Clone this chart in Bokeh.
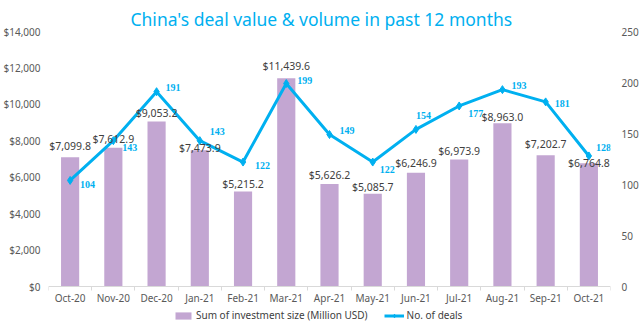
from bokeh.plotting import figure
from bokeh.models import (Range1d, LinearAxis, FixedTicker, NumeralTickFormatter,
                          ColumnDataSource, Legend, LegendItem, LabelSet)
from bokeh.core.properties import value
from bokeh.embed import file_html
from bokeh.resources import INLINE

months = ["Oct-20", "Nov-20", "Dec-20", "Jan-21", "Feb-21", "Mar-21", "Apr-21",
          "May-21", "Jun-21", "Jul-21", "Aug-21", "Sep-21", "Oct-21"]
investment = [7099.8, 7612.9, 9053.2, 7473.9, 5215.2, 11439.6, 5626.2,
              5085.7, 6246.9, 6973.9, 8963.0, 7202.7, 6764.8]
deals = [104, 143, 191, 143, 122, 199, 149, 122, 154, 177, 193, 181, 128]
left_max, right_max = 14000, 250
title_text = "China's deal value & volume in past 12 months"

# label placement styles (pixels)
bar_label_dy = [-11, -9, -9, -2, -8, -12, -9, -7, -10, -8, -6, -11, 0]   # screen, down positive
deal_label_dx = [10, 9, 9, 10, 12, 11, 10, 7, 0, 9, 9, 9, 7]
deal_label_dy = [-4, -7, 4, 9, -3, 3, 4, -7, 14, -8, 4, -2, 8]          # up positive

BAR = "#C3A6D2"
BLUE = "#00B0F0"
FONT = "Noto Sans"
PLOT_PX = 255      # pixel height of the 0..max value span
GAP_PX = 37        # room below the zero line for labels and legend

xs = list(range(len(months)))
src = ColumnDataSource(dict(
    x=xs, inv=investment, deals=deals, month=months,
    inv_txt=["${:,.1f}".format(v) for v in investment],
    deal_txt=[str(d) for d in deals],
    bdy=bar_label_dy, ddx=deal_label_dx, ddy=deal_label_dy,
))

p = figure(frame_width=562, frame_height=PLOT_PX + GAP_PX, output_backend="svg",
           toolbar_location=None,
           x_range=Range1d(-0.5, len(months) - 0.5),
           y_range=Range1d(-GAP_PX * left_max / PLOT_PX, left_max),
           min_border_left=45, min_border_right=33, min_border_top=31,
           min_border_bottom=0, outline_line_color=None,
           title=title_text)
p.title.align = "left"
p.title.offset = 82
p.title.standoff = 0
p.title.vertical_align = "middle"
p.title.text_color = BLUE
p.title.text_font = FONT
p.title.text_font_size = "17.5px"
p.title.text_font_style = "normal"
p.extra_y_ranges = {"right": Range1d(-GAP_PX * right_max / PLOT_PX, right_max)}

p.xgrid.visible = False
p.ygrid.visible = False

bars = p.vbar(x="x", top="inv", bottom=0, width=0.42, source=src, fill_color=BAR,
              line_color=None)
line = p.line(x="x", y="deals", source=src, y_range_name="right",
              line_color=BLUE, line_width=3)
pts = p.scatter(x="x", y="deals", source=src, y_range_name="right",
                marker="diamond", size=8, fill_color=BLUE, line_color=BLUE)

p.text(x="x", y="inv", text="inv_txt", source=src, y_offset="bdy",
       text_align="center", text_baseline="middle",
       text_font=value(FONT), text_font_size="10.5px", text_color="#404040")
dl = LabelSet(x="x", y="deals", text="deal_txt", source=src, y_range_name="right",
              x_offset="ddx", y_offset="ddy", text_align="left",
              text_baseline="middle", text_font=FONT, text_font_size="10px",
              text_font_style="bold", text_color=BLUE)
p.add_layout(dl)

# category labels under the zero line
p.text(x="x", y=0, text="month", source=src, y_offset=11,
       text_align="center", text_baseline="middle",
       text_font=value(FONT), text_font_size="10px", text_color="#595959")

# x axis line at zero with separators between categories
xa = p.xaxis[0]
xa.fixed_location = 0
xa.ticker = FixedTicker(ticks=[], minor_ticks=[i - 0.5 for i in range(len(months) + 1)])
xa.major_tick_line_color = None
xa.major_tick_out = 0
xa.major_tick_in = 0
xa.minor_tick_out = 4
xa.minor_tick_in = 0
xa.minor_tick_line_color = "#D9D9D9"
xa.axis_line_color = "#D9D9D9"
xa.major_label_text_font_size = "0px"
xa.major_label_standoff = 0

ya = p.yaxis[0]
ya.ticker = FixedTicker(ticks=list(range(0, left_max + 1, 2000)))
ya.formatter = NumeralTickFormatter(format="$0,0")
ya.axis_line_color = None
ya.major_tick_line_color = None
ya.major_tick_out = 0
ya.major_tick_in = 0
ya.minor_tick_line_color = None
ya.major_label_text_font = FONT
ya.major_label_text_font_size = "10px"
ya.major_label_text_color = "#595959"
ya.major_label_standoff = 8

ra = LinearAxis(y_range_name="right", ticker=FixedTicker(ticks=list(range(0, right_max + 1, 50))))
ra.axis_line_color = None
ra.major_tick_line_color = None
ra.major_tick_out = 0
ra.major_tick_in = 0
ra.minor_tick_line_color = None
ra.major_label_text_font = FONT
ra.major_label_text_font_size = "10px"
ra.major_label_text_color = "#595959"
ra.major_label_standoff = 11
p.add_layout(ra, "right")

legend = Legend(items=[
    LegendItem(label="Sum of investment size (Million USD)", renderers=[bars]),
    LegendItem(label="No. of deals", renderers=[line, pts]),
], orientation="horizontal", location=(125, 1), border_line_color=None,
    background_fill_alpha=0, label_text_font=FONT, label_text_font_size="10px",
    label_text_color="#404040", glyph_width=20, glyph_height=9,
    padding=0, margin=0, spacing=16, label_standoff=3, label_height=12)
p.add_layout(legend)

open("out.html", "w").write(file_html(p, INLINE))
